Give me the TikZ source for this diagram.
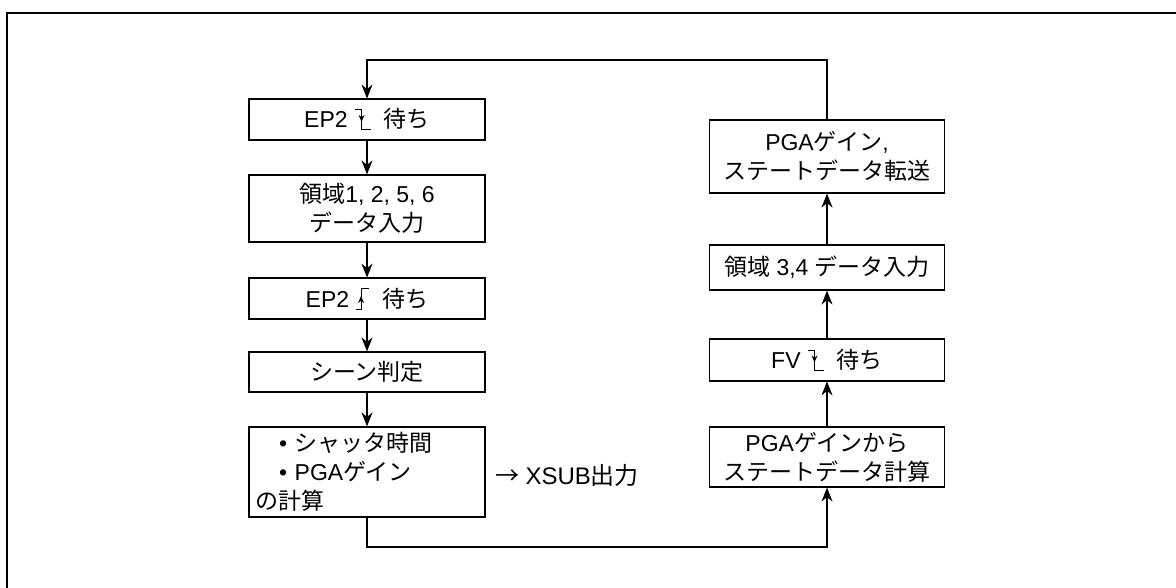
\documentclass[tikz,border=0pt]{standalone}
\usepackage{fontspec}
\setmainfont{Liberation Sans}
\newfontfamily\jp{Noto Sans CJK JP}
\usetikzlibrary{arrows.meta}

% edge symbols for the wait boxes
\newcommand{\falledge}{\tikz[baseline=0pt,line width=0.5pt]{
  \draw (0,9pt) -- (3.5pt,9pt);
  \draw[-{Stealth[length=3.5pt,width=3pt]}] (3.5pt,9pt) -- (3.5pt,3pt);
  \draw (3.5pt,3.5pt) -- (3.5pt,-1pt) -- (8pt,-1pt);}}
\newcommand{\riseedge}{\tikz[baseline=0pt,line width=0.5pt]{
  \draw (0,-1pt) -- (2.5pt,-1pt) -- (2.5pt,3pt);
  \draw[-{Stealth[length=3.5pt,width=3pt]}] (2.5pt,-1pt) -- (2.5pt,5.5pt);
  \draw (2.5pt,5pt) -- (2.5pt,9.5pt) -- (6.5pt,9.5pt);}}

\begin{document}
\begin{tikzpicture}[x=0.5pt,y=-0.5pt,line width=0.6pt,
  flowbox/.style={draw,rectangle,minimum width=118pt,align=center,inner sep=2pt,
    font=\fontsize{11.5}{14.5}\selectfont},
  flowarrow/.style={-{Stealth[length=7pt,width=5.5pt]}}]
\useasboundingbox (0,0) rectangle (1176,588);
% outer frame (top and left edges only)
\draw[line width=1pt] (7,588) -- (7,13) -- (1176,13);

% left column
\node [flowbox,minimum height=20.5pt] (wfall) at (367,119.5) {EP2 \falledge{} \ {\jp 待ち}};
\node [flowbox,minimum height=33.5pt] (in1256) at (367,208.5) {{\jp 領域}1, 2, 5, 6\\{\jp データ入力}};
\node [flowbox,minimum height=20.5pt] (wrise) at (367,298.5) {EP2 \riseedge{} \ {\jp 待ち}};
\node [flowbox,minimum height=20pt] (scene) at (367,372) {{\jp シーン判定}};
\node [flowbox,minimum height=45pt,text width=112pt,align=left,inner xsep=3pt] (calc) at (367,472)
  {\hspace*{12pt}• {\jp シャッタ時間}\\\hspace*{12pt}• PGA{\jp ゲイン}\\{\jp の計算}};
\node [anchor=west,inner sep=0pt,font=\fontsize{12}{14.5}\selectfont] (xsub) at (495,475) {{\jp →}\hspace{3pt}XSUB{\jp 出力}};

% right column
\node [flowbox,minimum width=117.5pt,minimum height=30pt] (state) at (827,457) {PGA{\jp ゲインから}\\{\jp ステートデータ計算}};
\node [flowbox,minimum width=117.5pt,minimum height=21pt] (wfv) at (827,360) {FV \falledge{} \ {\jp 待ち}};
\node [flowbox,minimum width=117.5pt,minimum height=22.5pt] (in34) at (827,267.5) {{\jp 領域} 3,4 {\jp データ入力}};
\node [flowbox,minimum width=117.5pt,minimum height=36.5pt] (send) at (827,156.5) {PGA{\jp ゲイン},\\{\jp ステートデータ転送}};

\foreach \from/\to in {wfall/in1256,in1256/wrise,wrise/scene,scene/calc,state/wfv,wfv/in34,in34/send}
  {\draw [flowarrow] (\from) -- (\to);}

% loop back lines
\draw [flowarrow] (send.north) |- (367,60) -- (wfall.north);
\draw [flowarrow] (calc.south) |- (827,547) -- (state.south);
\end{tikzpicture}
\end{document}
